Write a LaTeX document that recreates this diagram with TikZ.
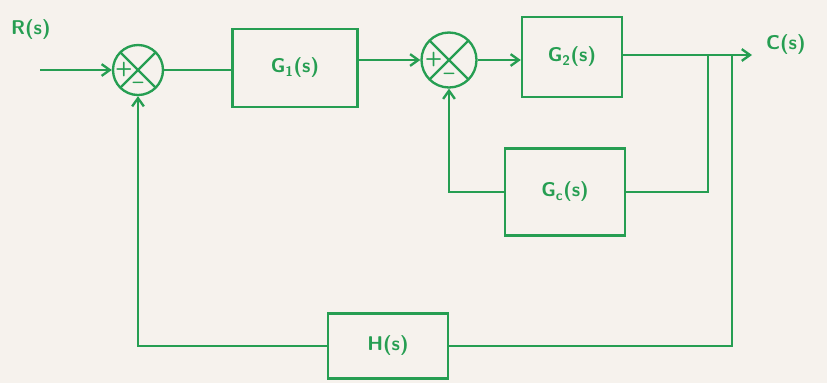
\documentclass[tikz,border=0pt]{standalone}
\usetikzlibrary{arrows.meta}
\definecolor{ink}{RGB}{38,158,82}
\definecolor{paper}{RGB}{246,242,237}
\begin{document}
\begin{tikzpicture}[x=0.03cm,y=-0.03cm,color=ink,line width=2pt,
  font=\sffamily\bfseries\fontsize{17}{19}\selectfont,
  blk/.style={draw,rectangle,inner sep=0pt},
  sumj/.style={draw,circle,minimum size=#1,inner sep=0pt,
    path picture={\draw (path picture bounding box.north west) -- (path picture bounding box.south east)
                        (path picture bounding box.north east) -- (path picture bounding box.south west);}},
  arr/.style={-{Straight Barb[length=7pt,width=10pt]}},
  sgn/.style={font=\sffamily\bfseries\fontsize{17}{18}\selectfont,inner sep=0pt}]
\fill[paper] (0,0) rectangle (827,383);
\useasboundingbox (0,0) rectangle (827,383);

\node[sumj=1.5cm] (s1) at (138,70) {};
\node[blk,minimum width=3.75cm,minimum height=2.34cm] (g1) at (295,68) {G\textsubscript{1}(s)};
\node[sumj=1.65cm] (s2) at (449,60) {};
\node[blk,minimum width=3cm,minimum height=2.4cm] (g2) at (572,57) {G\textsubscript{2}(s)};
\node[blk,minimum width=3.6cm,minimum height=2.6cm] (gc) at (565,192) {G\textsubscript{c}(s)};
\node[blk,minimum width=3.6cm,minimum height=1.95cm] (h) at (388,346) {H(s)};

\node[sgn] at ([xshift=-0.42cm]s1.center) {+};
\node[sgn] at ([yshift=-0.45cm]s1.center) {--};
\node[sgn] at ([xshift=-0.46cm]s2.center) {+};
\node[sgn] at ([yshift=-0.5cm]s2.center) {--};

\node[anchor=west,inner sep=0pt] (r) at (10,30) {R(s)};
\node[anchor=west,inner sep=0pt] (c) at (765,45) {C(s)};

\coordinate (in) at (40,70);
\coordinate (out) at (752,55);
\coordinate (b1) at (708,55);
\coordinate (b2) at (732,55);

\draw[arr] (in) -- (s1.west);
\draw (s1.east) -- (s1.east -| g1.west);
\draw[arr] (g1.east |- s2.west) -- (s2.west);
\draw[arr] (s2.east) -- (s2.east -| g2.west);
\draw[arr] (g2.east |- out) -- (out);

\draw (b1) |- (gc.east);
\draw[arr] (gc.west) -| (s2.south);
\draw (b2) |- (h.east);
\draw[arr] (h.west) -| (s1.south);
\end{tikzpicture}
\end{document}
